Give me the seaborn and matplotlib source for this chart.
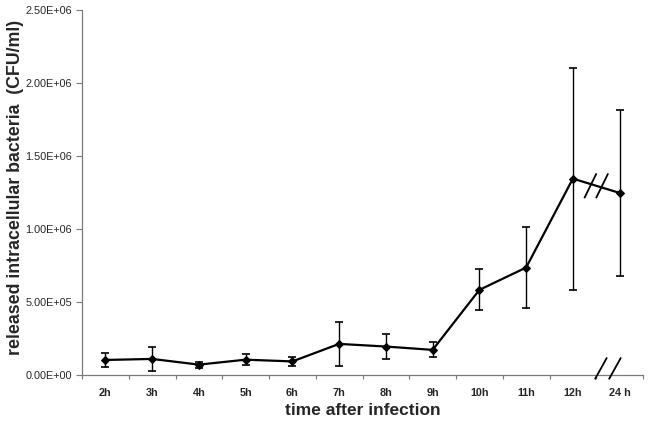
import numpy as np
import pandas as pd
import matplotlib
matplotlib.use("Agg")
import matplotlib.pyplot as plt
import seaborn as sns

# ---- data ----
time_labels = ["2h", "3h", "4h", "5h", "6h", "7h", "8h", "9h", "10h", "11h", "12h", "24 h"]
cfu_mean = [1.03e5, 1.10e5, 0.71e5, 1.05e5, 0.93e5, 2.13e5, 1.95e5, 1.72e5,
            5.83e5, 7.36e5, 1.345e6, 1.247e6]
cfu_err = [0.48e5, 0.85e5, 0.20e5, 0.38e5, 0.32e5, 1.50e5, 0.87e5, 0.52e5,
           1.40e5, 2.80e5, 7.60e5, 5.70e5]
y_ticks = [0, 5e5, 1e6, 1.5e6, 2e6, 2.5e6]
y_tick_labels = ["0.00E+00", "5.00E+05", "1.00E+06", "1.50E+06", "2.00E+06", "2.50E+06"]

df = pd.DataFrame({"time": time_labels, "cfu": cfu_mean, "err": cfu_err})
df["pos"] = np.arange(len(df))

sns.set_style("white")
plt.rcParams["font.family"] = ["Liberation Sans", "DejaVu Sans"]

fig = plt.figure(figsize=(6.51, 4.26), dpi=100)
ax = fig.add_axes([82 / 651, 1 - 375 / 426, (643 - 82) / 651, (375 - 10) / 426])

axis_col = "#7a7a7a"
sns.lineplot(data=df, x="pos", y="cfu", ax=ax, color="black", linewidth=1.6,
             marker="D", markersize=4.5, markeredgecolor="black", zorder=3)
ax.errorbar(df["pos"], df["cfu"], yerr=df["err"], fmt="none", ecolor="black",
            elinewidth=1.0, capsize=3.2, capthick=1.2, zorder=2)

n = len(df)
ax.set_xlim(-0.5, n - 0.5)
ax.set_ylim(0, 2.5e6)
ax.set_yticks(y_ticks)
ax.set_yticklabels(y_tick_labels, fontsize=7.8)
ax.set_xticks(df["pos"])
ax.set_xticklabels(df["time"], fontsize=7.8, fontweight="bold")
ax.set_xticks(np.arange(-0.5, n + 0.5, 1), minor=True)
ax.tick_params(axis="x", which="major", bottom=True, length=0, pad=9)
ax.tick_params(axis="x", which="minor", bottom=True, length=3, width=0.8,
               color=axis_col, direction="out")
ax.tick_params(axis="y", which="major", left=True, length=4, width=0.8,
               color=axis_col, direction="out", pad=3)

for side in ["top", "right"]:
    ax.spines[side].set_visible(False)
for side in ["left", "bottom"]:
    ax.spines[side].set_color(axis_col)
    ax.spines[side].set_linewidth(0.9)

ax.set_xlabel("time after infection", fontsize=12.5, fontweight="bold", labelpad=4)
ax.set_ylabel("released intracellular bacteria  (CFU/ml)", fontsize=12.8, fontweight="bold")
ax.yaxis.set_label_coords(-0.104, 0.513)

# ---- break marks between 12h and 24h ----
i12, i24 = n - 2, n - 1
xm = (i12 + i24) / 2
ym = (cfu_mean[i12] + cfu_mean[i24]) / 2
dx_slash = 0.13
dy_slash = 0.085e6
for off in (-0.125, 0.125):
    ax.plot([xm + off - dx_slash, xm + off + dx_slash],
            [ym - dy_slash, ym + dy_slash], color="black", lw=1.3, zorder=4,
            solid_capstyle="butt")

xa = xm + 0.25
for off in (-0.15, 0.15):
    ax.plot([xa + off - 0.13, xa + off + 0.13], [-0.03e6, 0.12e6],
            color="black", lw=1.3, clip_on=False, zorder=4, solid_capstyle="butt")

fig.savefig("out.png", dpi=100)
